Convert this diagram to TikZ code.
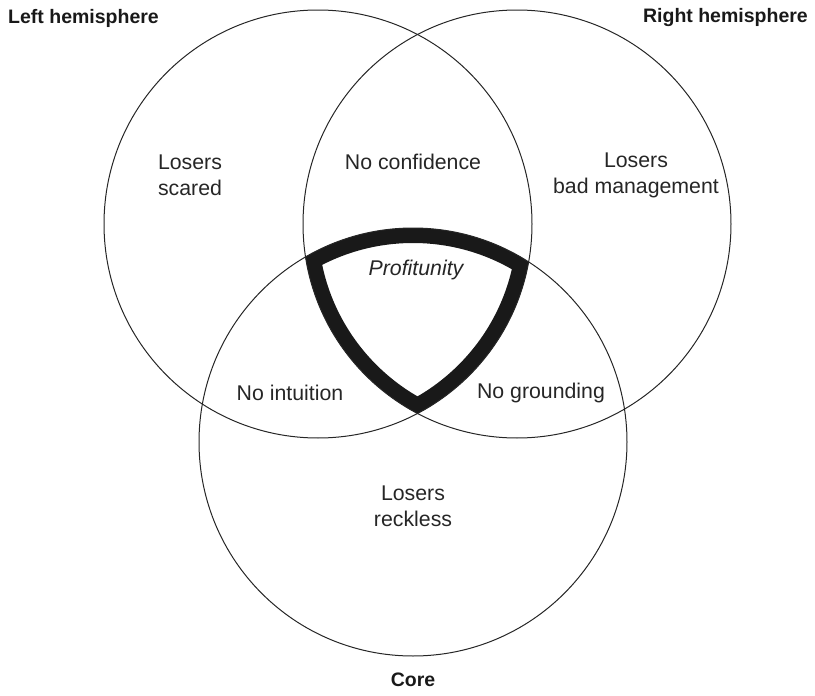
\documentclass[tikz,border=0pt]{standalone}
\usepackage{fontspec}
\setmainfont{Liberation Sans}
\begin{document}
\begin{tikzpicture}[x=1pt,y=-1pt,
  lbl/.style={font=\fontsize{21.3}{26}\selectfont, text=black!85, align=center, inner sep=0pt},
  ttl/.style={font=\fontsize{19.5}{24}\selectfont\bfseries, text=black!90, inner sep=0pt},
  ring/.style={line width=1pt, draw=black!85},
  band/.style={line width=30pt, draw=black!90}]
\useasboundingbox (0,0) rectangle (815,696);
\coordinate (cL) at (318,224);
\coordinate (cR) at (517,224);
\coordinate (cC) at (413,442);
\begin{scope}
  \clip (cL) circle[radius=214];
  \clip (cR) circle[radius=214];
  \clip (cC) circle[radius=214];
  \foreach \c in {cL,cR,cC} \draw[band] (\c) circle[radius=214];
\end{scope}
\foreach \c in {cL,cR,cC} \draw[ring] (\c) circle[radius=214];
\node[ttl, anchor=west] (lh) at (8,18) {Left hemisphere};
\node[ttl, anchor=east] (rh) at (808,18) {Right hemisphere};
\node[ttl] (core) at (413,680) {Core};
\node[lbl] (ls) at (190,175) {Losers\\scared};
\node[lbl] (nc) at (413,162) {No confidence};
\node[lbl] (lb) at (636,175) {Losers\\bad management};
\node[lbl, font=\fontsize{21.3}{26}\selectfont\itshape] (pf) at (416,270) {Profitunity};
\node[lbl] (ni) at (290,393) {No intuition};
\node[lbl] (ng) at (541,393) {No grounding};
\node[lbl] (lr) at (413,506) {Losers\\reckless};
\end{tikzpicture}
\end{document}
